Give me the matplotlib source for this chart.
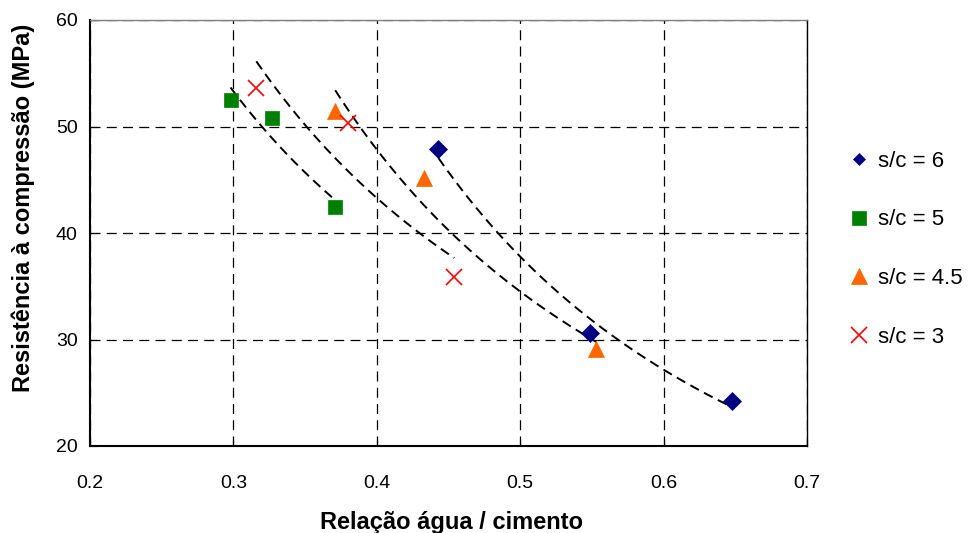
import numpy as np
from matplotlib import pyplot as plt

plt.rcParams['font.family'] = ['Liberation Sans', 'DejaVu Sans']

# Relação água/cimento (x) e resistência à compressão em MPa (y) por série
ac_6 = [0.443, 0.549, 0.648]
fc_6 = [47.9, 30.6, 24.2]

ac_5 = [0.298, 0.327, 0.371]
fc_5 = [52.5, 50.8, 42.4]

ac_45 = [0.371, 0.433, 0.553]
fc_45 = [51.5, 45.2, 29.1]

ac_3 = [0.316, 0.380, 0.454]
fc_3 = [53.6, 50.3, 35.9]

x_ticks = [0.2, 0.3, 0.4, 0.5, 0.6, 0.7]
y_ticks = [20, 30, 40, 50, 60]


def power_fit(x, y):
    """Ajuste potência y = a * x^b (linha de tendência)"""
    b, ln_a = np.polyfit(np.log(x), np.log(y), 1)
    xs = np.linspace(min(x), max(x), 100)
    return xs, np.exp(ln_a) * xs ** b


def main():
    fig = plt.figure(figsize=(9.72, 5.33), dpi=100)
    ax = fig.add_axes([90 / 972, 87 / 533, 717 / 972, 426 / 533])

    series = [
        (ac_6, fc_6, 's/c = 6', 'D', '#000080', 9.5),
        (ac_5, fc_5, 's/c = 5', 's', '#008000', 10),
        (ac_45, fc_45, 's/c = 4.5', '^', '#ff6600', 11.5),
        (ac_3, fc_3, 's/c = 3', 'x', '#ff0000', 11),
    ]

    handles = []
    for x, y, label, marker, color, size in series:
        xs, ys = power_fit(x, y)
        ax.plot(xs, ys, color='black', lw=1.4, linestyle=(0, (5, 3)), zorder=2)
        h, = ax.plot(x, y, linestyle='none', marker=marker, color=color,
                     markersize=size, markeredgewidth=1.2 if marker == 'x' else 0.5,
                     label=label, zorder=3)
        handles.append(h)

    ax.set_xlim(0.2, 0.7)
    ax.set_ylim(20, 60)
    ax.set_xticks(x_ticks)
    ax.set_yticks(y_ticks)
    ax.set_xticklabels([f'{t:.1f}' for t in x_ticks])
    ax.tick_params(direction='in', length=5, labelsize=14)
    ax.tick_params(axis='x', pad=21)
    ax.tick_params(axis='y', pad=9)

    ax.grid(True, color='black', linestyle=(0, (8, 5)), linewidth=0.9)
    ax.set_axisbelow(True)

    ax.spines['left'].set_linewidth(1.5)
    ax.spines['bottom'].set_linewidth(1.5)
    ax.spines['right'].set_linewidth(1.0)
    ax.spines['top'].set_color('#808080')
    ax.spines['top'].set_linewidth(1.0)

    ax.set_xlabel('Relação água / cimento', fontsize=17, fontweight='bold', va='center')
    ax.xaxis.set_label_coords(0.504, -0.18)
    ax.set_ylabel('Resistência à compressão (MPa)', fontsize=17, fontweight='bold', va='center')
    ax.yaxis.set_label_coords(-0.093, 0.559)

    leg_sizes = [6, 10, 11.5, 11]
    leg = ax.legend(handles=handles, loc='center left', bbox_to_anchor=(1.046, 0.462),
                    frameon=False, fontsize=16, labelspacing=1.7,
                    handlelength=0.7, handletextpad=0.5, borderpad=0)
    for lh, s in zip(leg.legend_handles, leg_sizes):
        lh.set_markersize(s)

    fig.savefig('out.png', dpi=100)


if __name__ == '__main__':
    main()
